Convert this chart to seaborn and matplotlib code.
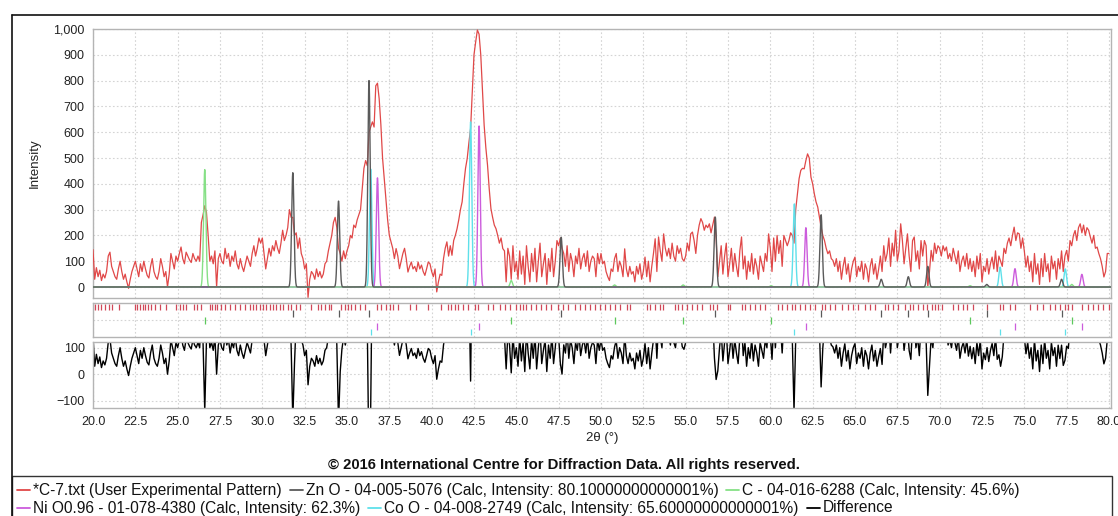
import numpy as np
import pandas as pd
import matplotlib
matplotlib.use("Agg")
import matplotlib.pyplot as plt
from matplotlib.lines import Line2D
from matplotlib.patches import Rectangle
from matplotlib.ticker import FuncFormatter
import seaborn as sns

# ---------------- data ----------------
two_theta_start = 20.0
two_theta_step = 0.1

obs_20s = [145, 30, 75, 40, 65, 25, 50, 35, 60, 120,
           135, 80, 60, 40, 30, 70, 100, 60, 30, 50,
           20, -5, 30, 60, 80, 100, 70, 40, 90, 60,
           100, 70, 45, 35, 80, 110, 60, 40, 30, 60,
           110, 80, 40, 60, 0, 50, 130, 100, 70, 120,
           100, 130, 155, 110, 90, 135, 120, 105, 95, 130,
           110, 100, 120, 100, 250, 280, 315, 290, 200, 100,
           120, 90, 140, 0, 110, 130, 100, 90, 150, 110,
           130, 80, 120, 100, 140, 90, 70, 110, 80, 60,
           90, 120, 100, 80, 130, 160, 120, 150, 190, 170]
obs_30s = [190, 130, 70, 110, 150, 120, 160, 140, 180, 150,
           130, 170, 220, 180, 200, 230, 300, 270, 270, 200,
           210, 150, 190, 130, 110, 70, 90, -40, 30, 60,
           50, 30, 70, 40, 60, 35, 50, 90, 100, 140,
           170, 200, 250, 270, 230, 150, 130, 100, 140, 110,
           140, 160, 200, 190, 240, 230, 260, 280, 300, 380,
           460, 490, 470, 600, 620, 640, 620, 780, 790, 730,
           630, 500, 420, 343, 260, 200, 175, 150, 110, 149,
           120, 71, 100, 130, 150, 110, 58, 80, 97, 70,
           80, 60, 97, 70, 85, 60, 45, 70, 97, 90]
obs_40s = [60, 40, 70, -19, 20, 50, 45, 110, 150, 175,
           120, 160, 123, 180, 200, 226, 260, 300, 330, 400,
           460, 498, 560, 614, 760, 900, 950, 996, 980, 900,
           760, 627, 540, 472, 380, 304, 270, 240, 226, 200,
           170, 190, 149, 140, 20, 150, 120, 30, 160, 60,
           100, 30, 140, 50, 120, 10, 160, 80, 20, 130,
           60, 150, 20, 100, 170, 40, 90, 130, 10, 110,
           60, 150, 40, 100, 180, 160, 190, 150, 130, 80,
           160, 60, 130, 100, 40, 120, 90, 150, 70, 110,
           130, 80, 140, 60, 100, 120, 110, 40, 130, 90]
obs_50s = [130, 90, 100, 60, 40, 25, 70, 60, 110, 130,
           60, 100, 80, 40, 148, 70, 40, 80, 50, 60,
           20, 80, 50, 90, 30, 60, 116, 40, 100, 20,
           80, 130, 187, 60, 194, 140, 100, 206, 150, 120,
           150, 110, 170, 120, 100, 160, 130, 150, 110, 100,
           120, 170, 140, 206, 213, 180, 130, 200, 240, 265,
           250, 220, 240, 230, 245, 210, 240, 271, 190, 40,
           100, 160, 50, 120, 170, 40, 90, 150, 60, 130,
           80, 40, 140, 194, 70, 120, 30, 100, 60, 130,
           50, 110, 80, 30, 120, 90, 60, 130, 100, 206]
obs_60s = [150, 60, 190, 100, 200, 130, 180, 80, 200, 180,
           160, 180, 210, 200, 170, 300, 361, 420, 452, 460,
           458, 490, 516, 500, 426, 400, 361, 330, 310, 270,
           232, 200, 180, 150, 129, 140, 110, 103, 80, 110,
           60, 100, 30, 80, 115, 50, 90, 20, 70, 100,
           116, 40, 80, 60, 100, 30, 90, 70, 20, 80,
           110, 50, 90, 30, 70, 120, 60, 160, 100, 130,
           190, 80, 170, 120, 220, 100, 140, 245, 180, 90,
           150, 206, 120, 60, 180, 194, 100, 140, 70, 180,
           120, 180, 160, 0, 60, 142, 100, 170, 130, 160]
obs_70s = [150, 120, 160, 140, 155, 110, 130, 100, 150, 120,
           90, 140, 60, 100, 120, 80, 130, 70, 110, 60,
           100, 40, 120, 70, 130, 20, 80, 60, 110, 50,
           90, 116, 70, 140, 60, 120, 100, 80, 150, 130,
           170, 190, 160, 200, 232, 180, 210, 206, 150, 190,
           140, 77, 120, 60, 100, 20, 130, 50, 90, 10,
           110, 40, 130, 60, 90, 20, 120, 70, 100, 30,
           110, 70, 140, 60, 120, 142, 100, 180, 160, 200,
           219, 180, 230, 245, 210, 240, 200, 230, 220, 194,
           170, 200, 150, 155, 130, 110, 80, 39, 60, 130]
obs_80 = [130]

# reference (calculated) patterns: peak positions (2θ) and heights
zno_pos = [31.8, 34.5, 36.3, 47.65, 56.75, 63.0, 66.55, 68.15, 69.3, 72.78, 77.2]
zno_int = [443, 333, 800, 193, 271, 280, 30, 40, 80, 10, 30]
c_pos = [26.6, 44.7, 50.8, 54.85, 60.05, 71.8, 77.8]
c_int = [455, 25, 8, 8, 5, 5, 10]
nio_pos = [36.8, 42.8, 62.1, 74.45, 78.4]
nio_int = [423, 624, 230, 71, 49]
coo_pos = [36.4, 42.3, 61.42, 73.57, 77.42]
coo_int = [457, 640, 322, 77, 70]

# peak list of the user pattern (red ticks)
user_ticks = [20.0, 20.14, 20.3, 20.49, 20.69, 20.93, 21.14, 21.52, 22.46, 22.62,
              22.78, 22.93, 23.09, 23.25, 23.45, 23.64, 23.94, 24.33, 24.92, 25.12,
              25.32, 25.51, 25.97, 26.12, 26.4, 26.89, 27.03, 27.19, 27.34, 27.58,
              27.78, 28.07, 28.37, 28.66, 28.96, 29.25, 29.45, 29.65, 29.84, 30.04,
              30.24, 30.44, 30.63, 30.83, 31.03, 31.22, 31.52, 31.71, 32.01, 32.21,
              32.9, 33.29, 33.49, 33.72, 33.92, 34.08, 34.67, 34.87, 35.06, 35.26,
              35.46, 35.75, 36.05, 36.8, 37.03, 37.33, 37.52, 37.72, 38.02, 38.71,
              39.1, 39.79, 40.57, 40.97, 41.17, 41.36, 41.56, 41.85, 42.15, 42.54,
              42.74, 43.33, 43.63, 44.02, 44.32, 44.61, 45.0, 45.2, 45.4, 45.6,
              45.89, 46.19, 46.48, 46.78, 47.07, 47.47, 47.76, 48.06, 48.45, 48.75,
              49.04, 49.34, 49.63, 49.93, 50.24, 50.54, 50.83, 51.13, 51.52, 51.72,
              52.7, 52.9, 53.19, 53.49, 53.69, 54.37, 54.57, 54.77, 55.06, 55.36,
              55.65, 55.95, 56.44, 56.64, 56.84, 57.52, 57.62, 58.31, 58.51, 58.8,
              59.1, 59.39, 59.69, 60.48, 60.67, 60.97, 61.26, 61.46, 61.76, 62.05,
              62.35, 62.64, 63.04, 63.23, 63.53, 63.82, 64.22, 64.61, 64.91, 65.2,
              65.59, 65.89, 66.19, 66.78, 66.97, 67.27, 67.56, 67.96, 68.25, 68.45,
              68.74, 69.04, 69.24, 69.53, 69.73, 69.93, 70.12, 70.81, 71.11, 71.4,
              71.6, 71.99, 72.78, 73.57, 73.76, 74.16, 74.45, 75.34, 75.73, 76.13,
              76.52, 76.82, 77.11, 77.41, 77.6, 77.8, 78.39, 78.78, 79.08, 79.37,
              79.67, 80.0]

x_ticks = [20.0, 22.5, 25.0, 27.5, 30.0, 32.5, 35.0, 37.5, 40.0, 42.5, 45.0, 47.5,
           50.0, 52.5, 55.0, 57.5, 60.0, 62.5, 65.0, 67.5, 70.0, 72.5, 75.0, 77.5, 80.0]
y_ticks_main = [0, 100, 200, 300, 400, 500, 600, 700, 800, 900, 1000]
y_ticks_diff = [-100, 0, 100]

legend_labels = ["*C-7.txt (User Experimental Pattern)",
                 "Zn O - 04-005-5076 (Calc, Intensity: 80.10000000000001%)",
                 "C - 04-016-6288 (Calc, Intensity: 45.6%)",
                 "Ni O0.96 - 01-078-4380 (Calc, Intensity: 62.3%)",
                 "Co O - 04-008-2749 (Calc, Intensity: 65.60000000000001%)",
                 "Difference"]

# ---------------- styling ----------------
RED = "#e04848"
GRAY = "#5a5a5a"
GREEN = "#86e086"
MAGENTA = "#cc5cdc"
CYAN = "#5ee0ea"
BLACK = "#000000"
GRID = "#d4d4d4"
SPINE = "#b4b4b4"

sns.set_style("white")
plt.rcParams['font.family'] = ['Liberation Sans', 'DejaVu Sans']
FONT = ['Liberation Sans', 'DejaVu Sans']

observed = np.array(obs_20s + obs_30s + obs_40s + obs_50s + obs_60s + obs_70s + obs_80, dtype=float)
two_theta = np.round(two_theta_start + two_theta_step * np.arange(len(observed)), 2)

SIGMA = 0.07  # drawing width of a calculated peak


def calc_profile(x, pos, hts):
    x = np.asarray(x)[:, None]
    return (np.asarray(hts)[None, :] *
            np.exp(-(x - np.asarray(pos)[None, :]) ** 2 / (2 * SIGMA ** 2))).sum(axis=1)


fine_x = np.round(np.arange(20.0, 80.1, 0.005), 3)
refs = [("CoO", coo_pos, coo_int, CYAN),
        ("NiO", nio_pos, nio_int, MAGENTA),
        ("C", c_pos, c_int, GREEN),
        ("ZnO", zno_pos, zno_int, GRAY)]

calc_total = sum(calc_profile(two_theta, p, h) for _, p, h, _ in refs)
difference = observed - calc_total

W, H = 1118, 516
fig = plt.figure(figsize=(W / 100, H / 100), dpi=100)


def rect(l, t, r, b):
    return [l / W, 1 - b / H, (r - l) / W, (b - t) / H]


ax_main = fig.add_axes(rect(93, 29, 1111, 298))
ax_tick = fig.add_axes(rect(93, 302.7, 1111, 336.7))
ax_diff = fig.add_axes(rect(93, 341.7, 1111, 408))

for ax in (ax_main, ax_tick, ax_diff):
    ax.set_xlim(20.0, 80.12)
    ax.set_xticks(x_ticks)
    for s in ax.spines.values():
        s.set_color(SPINE)
        s.set_linewidth(1.0)
    ax.grid(True, color=GRID, linestyle=(0, (1.5, 2.0)), linewidth=0.8)
    ax.set_axisbelow(True)
    ax.tick_params(axis="both", direction="out", length=4, width=0.8, color="#9a9a9a",
                   labelsize=9, labelcolor="#222222", pad=2)

# main panel
sns.lineplot(x=two_theta, y=observed, ax=ax_main, color=RED, linewidth=0.9, sort=False,
             estimator=None, zorder=3)
for name, p, h, col in refs:
    sns.lineplot(x=fine_x, y=calc_profile(fine_x, p, h), ax=ax_main, color=col,
                 linewidth=1.0, sort=False, estimator=None, zorder=4)
ax_main.set_ylim(-42.6, 1000)
ax_main.set_yticks(y_ticks_main)
ax_main.yaxis.set_major_formatter(FuncFormatter(lambda v, _: f"{v:,.0f}"))
ax_main.tick_params(axis="x", length=0, labelbottom=False)
ax_main.set_xlabel("")
ax_main.set_ylabel("")

# tick (peak marker) panel
ax_tick.set_ylim(0, 1)
ax_tick.set_yticks([0.5])
ax_tick.tick_params(axis="y", length=0, labelleft=False)
ax_tick.tick_params(axis="x", length=0, labelbottom=False)
ax_tick.vlines(user_ticks, 0.80, 0.96, color="#d04858", linewidth=0.9)
ax_tick.vlines(zno_pos, 0.59, 0.80, color=GRAY, linewidth=0.9)
ax_tick.vlines(c_pos, 0.38, 0.59, color="#5cc85c", linewidth=0.9)
ax_tick.vlines(nio_pos, 0.20, 0.41, color=MAGENTA, linewidth=0.9)
ax_tick.vlines(coo_pos, 0.04, 0.22, color=CYAN, linewidth=0.9)

# difference panel
sns.lineplot(x=two_theta, y=difference, ax=ax_diff, color=BLACK, linewidth=1.0, sort=False,
             estimator=None)
ax_diff.set_ylim(-127.5, 122.6)
ax_diff.set_yticks(y_ticks_diff)
ax_diff.set_xticklabels([f"{t:.1f}" for t in x_ticks])
ax_diff.set_xlabel("")
ax_diff.set_ylabel("")


def fx(px):
    return px / W


def fy(py):
    return 1 - py / H


fig.text(fx(35), fy(163), "Intensity", rotation=90, ha="center", va="center",
         fontsize=9.5, family=FONT, color="#222222")
fig.text(fx(602), fy(438), "2θ (°)", ha="center", va="center", fontsize=9.5,
         family=FONT, color="#222222")
fig.text(fx(564), fy(465), "© 2016 International Centre for Diffraction Data. All rights reserved.",
         ha="center", va="center", fontsize=10.7, fontweight="bold", family=FONT, color="#111111")

# outer frame and legend box
fig.add_artist(Line2D([fx(12), fx(1118)], [fy(15), fy(15)], transform=fig.transFigure,
                      color="#111111", linewidth=1.2))
fig.add_artist(Line2D([fx(12), fx(12)], [fy(15), fy(516)], transform=fig.transFigure,
                      color="#111111", linewidth=1.2))
fig.add_artist(Rectangle((fx(12), fy(530)), fx(1112) - fx(12), fy(476) - fy(530),
                         transform=fig.transFigure, fill=False, edgecolor="#333333",
                         linewidth=1.0))

# legend: flowing entries, two rows
legend_colors = [RED, GRAY, GREEN, MAGENTA, CYAN, BLACK]
legend_rows = [([0, 1, 2], 490), ([3, 4, 5], 508)]
renderer = fig.canvas.get_renderer()
for idxs, py in legend_rows:
    cur = 17
    for i in idxs:
        fig.add_artist(Line2D([fx(cur), fx(cur + 13)], [fy(py), fy(py)],
                              transform=fig.transFigure, color=legend_colors[i], linewidth=1.3))
        t = fig.text(fx(cur + 16), fy(py), legend_labels[i], ha="left", va="center",
                     fontsize=11.2, family=FONT, color="#111111")
        bb = t.get_window_extent(renderer=renderer)
        cur = bb.x1 + 8

fig.savefig("out.png", dpi=100)
